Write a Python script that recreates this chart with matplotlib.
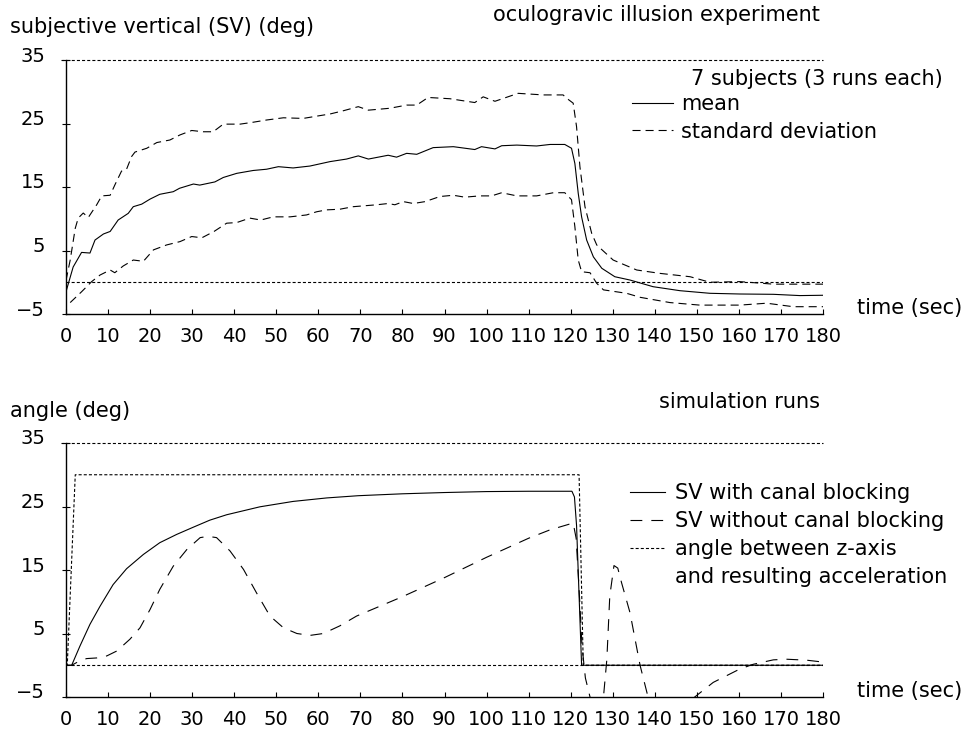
import matplotlib.pyplot as plt
from matplotlib.lines import Line2D
from matplotlib.transforms import ScaledTranslation, blended_transform_factory

# ---- data ----
# upper panel: oculogravic illusion experiment
t_mean = [0, 1.7, 3.7, 5.7, 6.9, 8.9, 10.5, 12.4, 14.8, 16, 18, 20, 22.3, 25.5, 27,
          30.3, 31.8, 35.4, 37.4, 40.6, 44.5, 47.7, 50.5, 54, 58, 62.8, 66.7, 69.5,
          71.9, 76.6, 78.6, 81, 83.4, 87.3, 92.1, 97.2, 98.8, 102, 103.6, 107.2,
          111.9, 115.1, 118.6, 120.2, 121, 121.8, 122.6, 123.8, 125.4, 127.4, 130.5,
          134.1, 139.6, 146, 153.1, 160.2, 168.2, 174.5, 180]
sv_mean = [-1.5, 2.4, 4.7, 4.6, 6.65, 7.6, 8.0, 9.8, 10.85, 11.9, 12.3, 13.1, 13.85,
           14.26, 14.8, 15.47, 15.3, 15.8, 16.5, 17.15, 17.6, 17.8, 18.2, 18.0, 18.3,
           19.0, 19.4, 19.9, 19.4, 20.0, 19.7, 20.3, 20.15, 21.2, 21.35, 20.9, 21.35,
           21.0, 21.5, 21.6, 21.46, 21.7, 21.7, 21.1, 18.7, 14.0, 10.3, 6.65, 4.0, 2.2,
           0.87, 0.35, -0.7, -1.33, -1.74, -1.85, -1.9, -2.1, -2.05]

t_upper = [0, 1.0, 2.2, 2.9, 4.1, 5.3, 7.3, 8.5, 10.5, 11.6, 13.2, 14.4, 15.6, 16.4,
           19.2, 21.6, 24.7, 27.1, 29.9, 32.6, 35, 37.4, 41.4, 44.5, 47.7, 51.7, 56.4,
           60, 62.8, 65.9, 69.5, 71.9, 77, 81, 83.4, 86.1, 91.3, 97.2, 99.2, 102,
           107.5, 113.5, 118.2, 119, 120.6, 121.4, 122.2, 123.4, 125, 126.2, 130.1,
           135.7, 141.2, 148.4, 153.1, 160.2, 168.2, 180]
sv_upper = [0.3, 3.5, 8.5, 10.1, 10.9, 10.2, 12.2, 13.6, 13.7, 15.3, 17.5, 17.8, 19.8,
            20.5, 21.1, 22.0, 22.4, 23.2, 23.9, 23.7, 23.7, 24.9, 24.9, 25.2, 25.55,
            25.9, 25.8, 26.2, 26.5, 27.0, 27.65, 27.1, 27.4, 27.9, 27.9, 29.1, 28.9,
            28.3, 29.2, 28.5, 29.75, 29.5, 29.5, 29.0, 28.2, 24.5, 18.2, 11.9, 7.7,
            5.87, 3.5, 1.93, 1.4, 0.87, 0.0, 0.1, -0.3, -0.3]

t_lower = [1, 3.7, 6.1, 8.1, 10.5, 11.6, 13.6, 16, 18.4, 20.8, 23.9, 27.1, 29.9, 32.3,
           35.2, 38.2, 40.6, 43.7, 46.3, 49.3, 53.3, 57.2, 59.6, 62, 65.1, 68.3, 73.9,
           76.6, 78.2, 80.2, 82.6, 85.4, 88.9, 92.1, 94.8, 98.4, 101.2, 103.6, 107.2,
           111.9, 115.9, 118.6, 120.2, 121, 121.8, 122.6, 124.6, 126.2, 127.8, 133.3,
           136.5, 143.6, 150.7, 160.2, 166.6, 172.9, 180]
sv_lower = [-3.2, -1.5, 0.1, 1.14, 1.93, 1.5, 2.56, 3.5, 3.3, 5.1, 5.87, 6.4, 7.2, 7.0,
            8.0, 9.3, 9.4, 10.1, 9.8, 10.3, 10.3, 10.6, 11.1, 11.4, 11.5, 11.9, 12.2,
            12.4, 12.2, 12.7, 12.4, 12.7, 13.5, 13.7, 13.4, 13.6, 13.6, 14.1, 13.6,
            13.6, 14.1, 14.1, 13.0, 8.75, 3.5, 1.66, 1.5, -0.17, -1.2, -1.74, -2.37,
            -3.2, -3.6, -3.6, -3.3, -3.85, -3.85]

# lower panel: simulation runs
t_angle = [0, 0.3, 2.2, 122.0, 123.0, 180]
angle = [0, 0, 30, 30, 0, 0]

t_block = [0, 1.35, 3.3, 5.7, 8.1, 11.2, 14.4, 18.4, 22.3, 26.3, 30.3, 34.2, 38.2,
           46.1, 54, 62, 69.5, 80, 90, 100, 110, 120.3, 120.9, 121.4, 122.6, 180]
sv_block = [0, 0, 3.0, 6.45, 9.3, 12.7, 15.2, 17.45, 19.3, 20.6, 21.75, 22.85, 23.7,
            24.95, 25.8, 26.35, 26.7, 27.0, 27.2, 27.35, 27.4, 27.4, 26.5, 22, 0, 0]

t_noblock = [0, 1.35, 3.3, 4.9, 7.3, 9.7, 12.1, 15.2, 17.6, 20, 22.3, 25.5, 28.7,
             31.9, 33.8, 35.8, 39, 42.2, 45.3, 48.5, 51.7, 54.9, 58, 61.2, 65.1, 69.1,
             75, 80, 90, 100, 110, 115, 120.6, 121.3, 122, 122.7, 123.5, 124.6, 126,
             127.8, 128.6, 129.3, 130.3, 131.2, 132.1, 134.1, 136.5, 138.4, 141, 144,
             147, 149.5, 153.9, 160.2, 163.4, 168.2, 171.3, 176.1, 180]
sv_noblock = [0, 0, 0.7, 1.05, 1.15, 1.47, 2.25, 4.1, 5.9, 8.8, 11.95, 15.6, 18.2,
              20.1, 20.3, 20.1, 18.0, 15.1, 11.4, 7.75, 5.9, 5.0, 4.7, 5.0, 6.2, 7.75,
              9.4, 10.8, 13.8, 17.0, 20.0, 21.3, 22.4, 20, 12, 3, -2, -5, -7.5, -5,
              0.9, 10.9, 15.7, 15.3, 13, 8.3, 0, -5, -8, -9, -7.5, -5, -2.7, -0.6,
              0.15, 0.85, 0.95, 0.8, 0.5]

xticks = list(range(0, 181, 10))
yticks = [-5, 5, 15, 25, 35]

plt.rcParams['font.family'] = ['DejaVu Sans']
plt.rcParams['lines.scale_dashes'] = False
FS = 15      # labels and legend
TS = 14      # tick labels
LW = 0.8

fig = plt.figure(figsize=(9.65, 7.31), dpi=100)
ax1 = fig.add_axes([66 / 965, 1 - 314 / 731, 757 / 965, 254 / 731])
ax2 = fig.add_axes([66 / 965, 1 - 697 / 731, 757 / 965, 254 / 731])

ref_dash = (0, (2.2, 1.5))
std_dash = (0, (5.8, 3.6))
long_dash = (0, (8.5, 6.5))


def style_axis(ax):
    ax.set_xlim(0, 180)
    ax.set_ylim(-5, 35)
    ax.spines['top'].set_visible(False)
    ax.spines['right'].set_visible(False)
    ax.spines['left'].set_linewidth(1.0)
    ax.spines['bottom'].set_linewidth(1.0)
    ax.set_xticks(xticks)
    ax.set_yticks(yticks)
    ax.tick_params(axis='x', direction='in', length=3.6, width=0.8, pad=9.5, labelsize=TS)
    ax.tick_params(axis='y', direction='inout', length=5.8, width=0.8, pad=12, labelsize=TS)
    off = ScaledTranslation(0, 6 / 100, fig.dpi_scale_trans)
    for lab in ax.get_yticklabels():
        lab.set_transform(lab.get_transform() + off)
    ax.axhline(35, xmin=-0.006, color='k', lw=LW, ls=ref_dash, clip_on=False)
    ax.axhline(0, color='k', lw=LW, ls=ref_dash)
    tr = blended_transform_factory(ax.transAxes, ax.transData)
    ax.text(1.045, -5, 'time (sec)', transform=tr, fontsize=FS, va='baseline')


style_axis(ax1)
style_axis(ax2)

# upper panel
ax1.plot(t_mean, sv_mean, color='k', lw=LW, label='mean')
ax1.plot(t_upper, sv_upper, color='k', lw=LW, ls=std_dash, label='standard deviation')
ax1.plot(t_lower, sv_lower, color='k', lw=LW, ls=std_dash)
ax1.legend(loc='upper left', bbox_to_anchor=(632 / 965, 1 - 94 / 731),
           bbox_transform=fig.transFigure, frameon=False, fontsize=FS,
           borderpad=0, borderaxespad=0, handlelength=1.95, handletextpad=0.42,
           labelspacing=0.36)
fig.text(943 / 965, 1 - 85 / 731, '7 subjects (3 runs each)', fontsize=FS,
         ha='right', va='baseline')
fig.text(10 / 965, 1 - 33 / 731, 'subjective vertical (SV) (deg)', fontsize=FS,
         va='baseline')
fig.text(820 / 965, 1 - 21 / 731, 'oculogravic illusion experiment', fontsize=FS,
         ha='right', va='baseline')

# lower panel
ax2.plot(t_block, sv_block, color='k', lw=LW, label='SV with canal blocking')
ax2.plot(t_noblock, sv_noblock, color='k', lw=LW, ls=long_dash,
         label='SV without canal blocking')
ax2.plot(t_angle, angle, color='k', lw=LW, ls=ref_dash,
         label='angle between z-axis')
h, l = ax2.get_legend_handles_labels()
h.append(Line2D([], [], ls='none'))
l.append('and resulting acceleration')
ax2.legend(h, l, loc='upper left', bbox_to_anchor=(630 / 965, 1 - 483 / 731),
           bbox_transform=fig.transFigure, frameon=False, fontsize=FS,
           borderpad=0, borderaxespad=0, handlelength=1.7, handletextpad=0.45,
           labelspacing=0.38)
fig.text(10 / 965, 1 - 416.7 / 731, 'angle (deg)', fontsize=FS, va='baseline')
fig.text(820 / 965, 1 - 408 / 731, 'simulation runs', fontsize=FS, ha='right',
         va='baseline')

fig.savefig('out.png', dpi=100)
